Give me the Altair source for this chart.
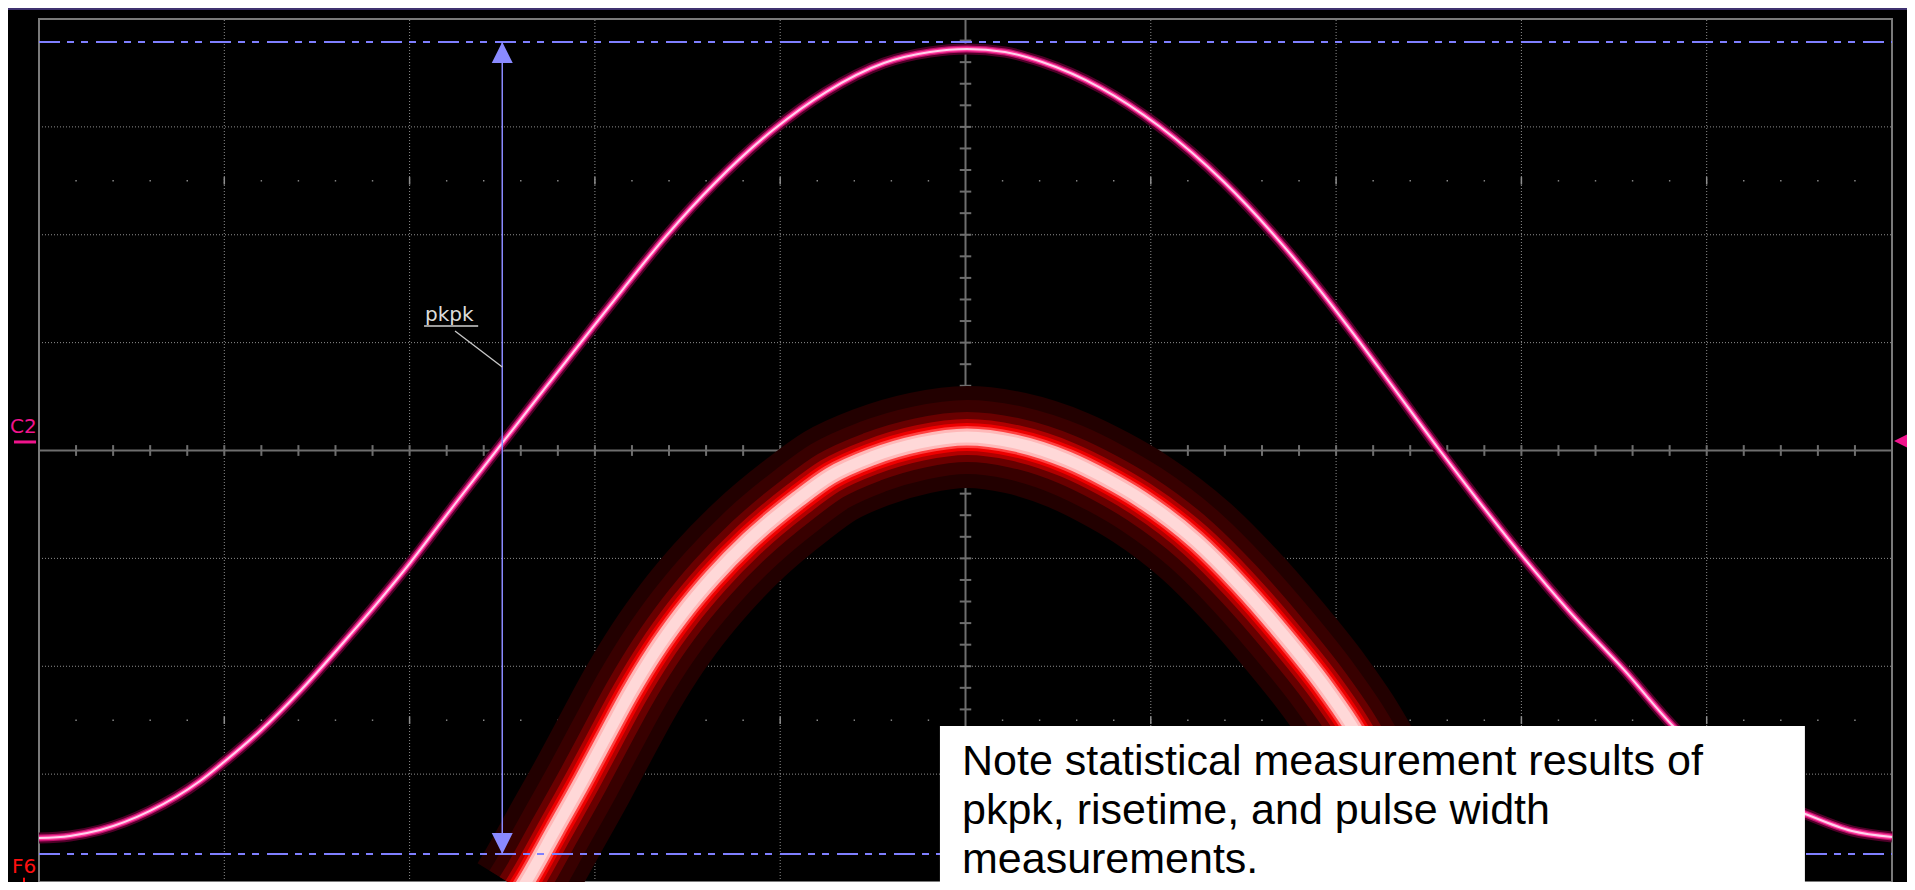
import altair as alt
import pandas as pd

# ---------------- data (screen divisions: x 0..10, y -4..4) ----------------
# Channel C2 (pink pulse)
c2_x = [0.000, 0.167, 0.329, 0.599, 0.869, 0.998, 1.193, 1.409, 1.678, 2.002,
        2.245, 2.488, 2.731, 2.968, 3.152, 3.384, 3.648, 3.961, 4.247, 4.560,
        4.808, 5.008, 5.213, 5.413, 5.731, 6.044, 6.395, 6.670, 6.908, 7.091,
        7.291, 7.550, 7.777, 7.982, 8.262, 8.554, 8.818, 8.964, 9.126, 9.288,
        9.520, 9.784, 10.000]
c2_y = [-3.592, -3.573, -3.518, -3.341, -3.064, -2.888, -2.600, -2.229, -1.710, -1.043,
        -0.496, 0.042, 0.579, 1.098, 1.497, 1.988, 2.480, 2.971, 3.323, 3.592,
        3.694, 3.722, 3.694, 3.601, 3.360, 3.008, 2.489, 1.988, 1.497, 1.089,
        0.626, 0.023, -0.487, -0.932, -1.498, -2.034, -2.554, -2.804, -3.036, -3.194,
        -3.360, -3.527, -3.583]

# Math trace F6 (red persistence)
f6_x = [2.601, 2.634, 2.785, 2.936, 3.060, 3.189, 3.324, 3.470, 3.632, 3.832,
        4.096, 4.269, 4.495, 4.754, 5.008, 5.267, 5.553, 5.753, 5.947, 6.244,
        6.476, 6.708, 6.940, 7.075, 7.194, 7.318, 7.453, 7.518]
f6_y = [-4.074, -3.981, -3.518, -3.054, -2.656, -2.248, -1.868, -1.516, -1.182, -0.830,
        -0.450, -0.236, -0.060, 0.070, 0.125, 0.070, -0.088, -0.255, -0.450, -0.839,
        -1.237, -1.692, -2.192, -2.526, -2.869, -3.240, -3.703, -4.074]

# pkpk measurement cursors
pkpk_x = 2.5
pkpk_top = 3.787
pkpk_bottom = -3.740

# graticule
major_x = [1, 2, 3, 4, 6, 7, 8, 9]
major_y = [-3, -2, -1, 1, 2, 3]
minor_x = [i / 5 for i in range(1, 50)]
minor_y = [i / 5 for i in range(-19, 20) if i != 0]
dot_x = [i / 5 for i in range(1, 50) if i % 5 != 0]
dot_rows = [-2.5, 2.5]

note_lines = ["Note statistical measurement results of",
              "pkpk, risetime, and pulse width",
              "measurements."]

# ---------------- helpers ----------------
XS = alt.Scale(domain=[0, 10], nice=False, zero=False)
YS = alt.Scale(domain=[-4, 4], nice=False, zero=False)


def X(f="x"):
    return alt.X(f"{f}:Q", scale=XS, axis=None)


def Y(f="y"):
    return alt.Y(f"{f}:Q", scale=YS, axis=None)


c2 = pd.DataFrame({"x": c2_x, "y": c2_y})
f6 = pd.DataFrame({"x": f6_x, "y": f6_y})

layers = []

# dotted grid
gv = pd.DataFrame({"x": major_x, "y": -4.0, "y2": 4.0})
gh = pd.DataFrame({"y": major_y, "x": 0.0, "x2": 10.0})
layers.append(alt.Chart(gv).mark_rule(color="#8e8e8e", strokeWidth=1, strokeDash=[1, 2])
              .encode(x=X(), y=Y(), y2="y2:Q"))
layers.append(alt.Chart(gh).mark_rule(color="#8e8e8e", strokeWidth=1, strokeDash=[1, 2])
              .encode(y=Y(), x=X(), x2="x2:Q"))

# dot rows
dots = pd.DataFrame([{"x": x, "y": y} for y in dot_rows for x in dot_x])
layers.append(alt.Chart(dots).mark_square(size=2, color="#8e8e8e", opacity=1)
              .encode(x=X(), y=Y()))
marks = pd.DataFrame([{"x": x, "y": y - 0.035, "y2": y + 0.035} for y in dot_rows for x in major_x])
layers.append(alt.Chart(marks).mark_rule(color="#8e8e8e", strokeWidth=1.5)
              .encode(x=X(), y=Y(), y2="y2:Q"))

# centre axes with minor ticks
axes_h = pd.DataFrame({"y": [0.0], "x": [0.0], "x2": [10.0]})
axes_v = pd.DataFrame({"x": [5.0], "y": [-4.0], "y2": [4.0]})
layers.append(alt.Chart(axes_h).mark_rule(color="#6e6e6e", strokeWidth=2)
              .encode(y=Y(), x=X(), x2="x2:Q"))
layers.append(alt.Chart(axes_v).mark_rule(color="#6e6e6e", strokeWidth=2)
              .encode(x=X(), y=Y(), y2="y2:Q"))
th = pd.DataFrame({"x": minor_x, "y": -0.05, "y2": 0.05})
tv = pd.DataFrame({"y": minor_y, "x": 4.969, "x2": 5.031})
layers.append(alt.Chart(th).mark_rule(color="#6e6e6e", strokeWidth=2)
              .encode(x=X(), y=Y(), y2="y2:Q"))
layers.append(alt.Chart(tv).mark_rule(color="#6e6e6e", strokeWidth=2)
              .encode(y=Y(), x=X(), x2="x2:Q"))

# frame
frame = pd.DataFrame({"x": [0.0], "x2": [10.0], "y": [-4.0], "y2": [4.0]})
layers.append(alt.Chart(frame).mark_rect(filled=False, stroke="#7a7a7a", strokeWidth=2)
              .encode(x=X(), x2="x2:Q", y=Y(), y2="y2:Q"))

# F6 persistence trace (glow layers)
for w, col in [(102, "#220000"), (74, "#380000"), (50, "#680000"), (36, "#b00000"),
               (28, "#ee0000"), (22, "#ff4040"), (17, "#ffb8b8"), (11, "#ffd8d8")]:
    layers.append(alt.Chart(f6).mark_line(color=col, strokeWidth=w, interpolate="monotone",
                                          strokeCap="butt", strokeJoin="round")
                  .encode(x=X(), y=Y()))

# C2 trace (glow layers)
for w, col in [(11, "#4e0028"), (7, "#c0106c"), (4.5, "#ff3c9e"), (2, "#ffd2ec")]:
    layers.append(alt.Chart(c2).mark_line(color=col, strokeWidth=w, interpolate="monotone",
                                          strokeCap="butt", strokeJoin="round")
                  .encode(x=X(), y=Y()))

# pkpk cursors
cur = pd.DataFrame({"y": [pkpk_top, pkpk_bottom], "x": 0.0, "x2": 10.0})
layers.append(alt.Chart(cur).mark_rule(color="#7f7fff", strokeWidth=2,
                                       strokeDash=[21, 7, 7, 7, 7, 8])
              .encode(y=Y(), x=X(), x2="x2:Q"))
arr = pd.DataFrame({"x": [pkpk_x], "y": [pkpk_bottom], "y2": [pkpk_top]})
layers.append(alt.Chart(arr).mark_rule(color="#8a8aff", strokeWidth=1.5)
              .encode(x=X(), y=Y(), y2="y2:Q"))
layers.append(alt.Chart(pd.DataFrame({"x": [pkpk_x], "y": [pkpk_top]}))
              .mark_point(shape="M0,0L-1,2L1,2Z", size=441, filled=True, color="#8a8aff", opacity=1)
              .encode(x=X(), y=Y()))
layers.append(alt.Chart(pd.DataFrame({"x": [pkpk_x], "y": [pkpk_bottom]}))
              .mark_point(shape="M0,0L-1,-2L1,-2Z", size=441, filled=True, color="#8a8aff", opacity=1)
              .encode(x=X(), y=Y()))

# pkpk label
lab = pd.DataFrame({"x": [2.083], "y": [1.200], "t": ["pkpk"]})
layers.append(alt.Chart(lab).mark_text(font="DejaVu Sans", fontSize=20, color="#dcdcdc",
                                       align="left", baseline="alphabetic")
              .encode(x=X(), y=Y(), text="t:N"))
ul = pd.DataFrame({"x": [2.078], "x2": [2.370], "y": [1.154]})
layers.append(alt.Chart(ul).mark_rule(color="#d0d0d0", strokeWidth=1.5)
              .encode(x=X(), x2="x2:Q", y=Y()))
lead = pd.DataFrame({"x": [2.245, 2.5], "y": [1.108, 0.774]})
layers.append(alt.Chart(lead).mark_line(color="#c8c8c8", strokeWidth=1.3)
              .encode(x=X(), y=Y()))

# side labels / markers
c2lab = pd.DataFrame({"x": [-0.084], "y": [0.162], "t": ["C2"]})
layers.append(alt.Chart(c2lab).mark_text(font="DejaVu Sans", fontSize=20, color="#f0148c",
                                         align="center", baseline="alphabetic")
              .encode(x=X(), y=Y(), text="t:N"))
c2bar = pd.DataFrame({"x": [-0.135], "x2": [-0.016], "y": [0.079]})
layers.append(alt.Chart(c2bar).mark_rule(color="#f0148c", strokeWidth=3)
              .encode(x=X(), x2="x2:Q", y=Y()))
layers.append(alt.Chart(pd.DataFrame({"x": [10.011], "y": [0.088]}))
              .mark_point(shape="M0,0L2,-1L2,1Z", size=256, filled=True, color="#f0148c", opacity=1)
              .encode(x=X(), y=Y()))
f6lab = pd.DataFrame({"x": [-0.081], "y": [-3.917], "t": ["F6"]})
layers.append(alt.Chart(f6lab).mark_text(font="DejaVu Sans", fontSize=20, color="#ff1010",
                                         align="center", baseline="alphabetic")
              .encode(x=X(), y=Y(), text="t:N"))
f6arr = pd.DataFrame({"x": [-0.081], "y": [-3.96], "y2": [-4.2]})
layers.append(alt.Chart(f6arr).mark_rule(color="#ff1010", strokeWidth=2)
              .encode(x=X(), y=Y(), y2="y2:Q"))

# top title bar
bar = pd.DataFrame({"x": [-0.3], "x2": [10.2], "y": [4.083], "y2": [4.3]})
layers.append(alt.Chart(bar).mark_rect(color="#3f316f")
              .encode(x=X(), x2="x2:Q", y=Y(), y2="y2:Q"))

# note box
box = pd.DataFrame({"x": [4.862], "x2": [9.530], "y": [-2.554], "y2": [-4.3]})
layers.append(alt.Chart(box).mark_rect(color="#ffffff")
              .encode(x=X(), x2="x2:Q", y=Y(), y2="y2:Q"))
note = pd.DataFrame({"x": [4.981], "y": [-3.008], "t": ["\n".join(note_lines)]})
layers.append(alt.Chart(note).mark_text(font="Liberation Sans", fontSize=43, color="#000000",
                                        align="left", baseline="alphabetic",
                                        lineBreak="\n", lineHeight=49)
              .encode(x=X(), y=Y(), text="t:N"))

chart = alt.layer(*layers).properties(
    width=1853, height=863,
    padding={"left": 31, "top": 11, "right": 15, "bottom": 0},
    autosize=alt.AutoSizeParams(type="none"),
    background="#000000",
).configure_view(stroke=None)

chart.save("out.html", embed_options={"renderer": "svg", "actions": False})
